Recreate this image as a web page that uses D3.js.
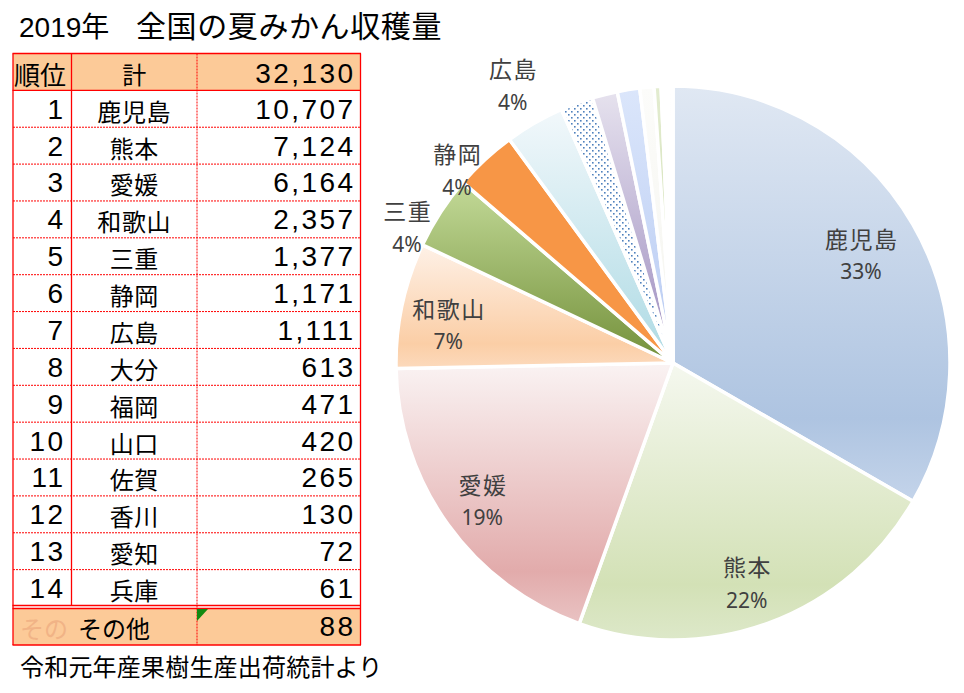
<!DOCTYPE html>
<html><head><meta charset="utf-8">
<script src="https://cdn.jsdelivr.net/npm/d3@7"></script>
<style>html,body{margin:0;padding:0;background:#fff;} svg{display:block}</style>
</head><body><svg id="c" width="964" height="693"></svg>
<script>
// ---- data ----
const ranks = ["1","2","3","4","5","6","7","8","9","10","11","12","13","14"];
const prefectures = ["鹿児島","熊本","愛媛","和歌山","三重","静岡","広島","大分","福岡","山口","佐賀","香川","愛知","兵庫"];
const harvest = [10707,7124,6164,2357,1377,1171,1111,613,471,420,265,130,72,61];
const otherName = "その他";
const otherValue = 88;
const totalValue = 32130;
const pctLabels = ["33%","22%","19%","7%","4%","4%","4%"];
const titleYear = "2019年";
const titleMain = "全国の夏みかん収穫量";
const headerRank = "順位";
const headerName = "計";
const footerText = "令和元年産果樹生産出荷統計より";

// ---- setup ----
const svg = d3.select("#c");
const defs = svg.append("defs");
const CJK = "'Noto Sans CJK JP','Noto Sans CJK SC',sans-serif";
const NUM = "'Liberation Sans','Noto Sans CJK JP',sans-serif";
const fmt = d3.format(",");

// title
svg.append("text").attr("x",19).attr("y",37).attr("font-family",NUM).attr("font-size",28).attr("fill","#000").text(titleYear);
svg.append("text").attr("x",136).attr("y",37).attr("font-family",CJK).attr("font-size",30).attr("letter-spacing",0.6).attr("fill","#000").text(titleMain);

// ---- table ----
const colX = [13, 71.5, 197, 360.5];
const rowScale = d3.scaleBand().domain(d3.range(15)).range([53.5, 606.5]).padding(0);
const otherTop = 608, otherBot = 645;
const peach = "#fcca98", red = "#ff0000";

const tbl = svg.append("g");
tbl.append("rect").attr("x",colX[0]).attr("y",rowScale(0)).attr("width",colX[3]-colX[0]).attr("height",rowScale.bandwidth()).attr("fill",peach);
tbl.append("rect").attr("x",colX[0]).attr("y",otherTop).attr("width",colX[3]-colX[0]).attr("height",otherBot-otherTop).attr("fill",peach);

for (let i = 1; i < 14; i++) {
  const y = rowScale(i) + rowScale.bandwidth();
  tbl.append("line").attr("x1",colX[0]).attr("x2",colX[3]).attr("y1",y).attr("y2",y)
    .attr("stroke",red).attr("stroke-width",1).attr("stroke-dasharray","2,1");
}
const hb = rowScale(0) + rowScale.bandwidth();
[rowScale(0), hb, 605.5, 608.5, otherBot].forEach(y=>{
  tbl.append("line").attr("x1",colX[0]-0.5).attr("x2",colX[3]+0.5).attr("y1",y).attr("y2",y).attr("stroke",red).attr("stroke-width",1.3);
});
tbl.append("line").attr("x1",colX[0]).attr("x2",colX[0]).attr("y1",rowScale(0)).attr("y2",otherBot).attr("stroke",red).attr("stroke-width",1.3);
tbl.append("line").attr("x1",colX[3]).attr("x2",colX[3]).attr("y1",rowScale(0)).attr("y2",otherBot).attr("stroke",red).attr("stroke-width",1.3);
tbl.append("line").attr("x1",colX[1]).attr("x2",colX[1]).attr("y1",rowScale(0)).attr("y2",605.5).attr("stroke",red).attr("stroke-width",1.3);
tbl.append("line").attr("x1",colX[2]).attr("x2",colX[2]).attr("y1",rowScale(0)).attr("y2",otherBot).attr("stroke",red).attr("stroke-width",1).attr("stroke-dasharray","2,1");

tbl.append("path").attr("d",`M${colX[2]},609L${colX[2]+11},609L${colX[2]},621Z`).attr("fill","#128a12");

const numLS = 2.4, numFS = 28;
tbl.append("text").attr("x",14).attr("y",hb-5).attr("font-family",CJK).attr("font-size",26).attr("fill","#000").text(headerRank);
tbl.append("text").attr("x",(colX[1]+colX[2])/2).attr("y",hb-6).attr("text-anchor","middle").attr("font-family",CJK).attr("font-size",24).attr("fill","#000").text(headerName);
tbl.append("text").attr("x",353+numLS).attr("y",hb-7.5).attr("text-anchor","end").attr("font-family",NUM).attr("font-size",numFS).attr("letter-spacing",numLS).attr("fill","#000").text(fmt(totalValue));

ranks.forEach((r,i)=>{
  const yb = rowScale(i+1) + rowScale.bandwidth();
  tbl.append("text").attr("x",63+numLS).attr("y",yb-8.5).attr("text-anchor","end").attr("font-family",NUM).attr("font-size",numFS).attr("letter-spacing",numLS).attr("fill","#000").text(r);
  tbl.append("text").attr("x",(colX[1]+colX[2])/2).attr("y",yb-6.5).attr("text-anchor","middle").attr("font-family",CJK).attr("font-size",24).attr("letter-spacing",0.6).attr("fill","#000").text(prefectures[i]);
  tbl.append("text").attr("x",353+numLS).attr("y",yb-8.5).attr("text-anchor","end").attr("font-family",NUM).attr("font-size",numFS).attr("letter-spacing",numLS).attr("fill","#000").text(fmt(harvest[i]));
});
tbl.append("text").attr("x",20).attr("y",otherBot-7).attr("font-family",CJK).attr("font-size",24).attr("fill","#f1b386").text(otherName.slice(0,2));
tbl.append("text").attr("x",78).attr("y",otherBot-7).attr("font-family",CJK).attr("font-size",24).attr("fill","#000").text(otherName);
tbl.append("text").attr("x",353+numLS).attr("y",otherBot-9).attr("text-anchor","end").attr("font-family",NUM).attr("font-size",numFS).attr("letter-spacing",numLS).attr("fill","#000").text(fmt(otherValue));

// footer
svg.append("text").attr("x",20).attr("y",676).attr("font-family",CJK).attr("font-size",24).attr("letter-spacing",0.2).attr("fill","#000").text(footerText);

// ---- pie ----
const cx = 673, cy = 363, R = 277;
const pieData = prefectures.map((p,i)=>({name:p, v:harvest[i]})).concat([{name:otherName, v:otherValue}]);
const pie = d3.pie().sort(null).value(d=>d.v).startAngle(0).endAngle(2*Math.PI);
const arcs = pie(pieData);
const arc = d3.arc().innerRadius(0).outerRadius(R);

const gradStops = [
  [["0","#e0e8f3"],["0.8","#aec4e1"],["1","#c4d4ea"]],
  [["0","#f5f8ef"],["0.8","#d3e1b6"],["1","#dde8c9"]],
  [["0","#faf3f3"],["0.8","#e2abab"],["1","#e9c3c3"]],
  [["0","#fef1e7"],["0.8","#fbcea6"],["1","#fcdabd"]],
  [["0","#c3da98"],["1","#73903a"]],
  [["0","#f79646"],["1","#f79646"]],
  [["0","#f2f8fb"],["1","#addae4"]],
  null,
  [["0","#e6e2ee"],["1","#9c8bbe"]],
  [["0","#dbe6fb"],["1","#b7caf2"]],
  [["0","#fcfcfa"],["1","#f4f4ee"]],
  [["0","#e3ecd0"],["1","#cbdcaa"]],
  [["0","#fdfdfb"],["1","#f5f5ef"]],
  [["0","#e3ecd0"],["1","#cbdcaa"]],
  [["0","#ffffff"],["1","#fbfbf8"]]
];
gradStops.forEach((st,i)=>{
  if(!st) return;
  const g = defs.append("linearGradient").attr("id","g"+i).attr("x1",0).attr("y1",0).attr("x2",0).attr("y2",1);
  st.forEach(([o,c])=>g.append("stop").attr("offset",o).attr("stop-color",c));
});
const pat = defs.append("pattern").attr("id","dots").attr("patternUnits","userSpaceOnUse").attr("width",6).attr("height",6);
pat.append("rect").attr("width",6).attr("height",6).attr("fill","#fff");
pat.append("rect").attr("x",0).attr("y",0).attr("width",1.6).attr("height",1.6).attr("fill","#4f81bd");
pat.append("rect").attr("x",3).attr("y",3).attr("width",1.6).attr("height",1.6).attr("fill","#4f81bd");

const pg = svg.append("g").attr("transform",`translate(${cx},${cy})`);
pg.selectAll("path.slice").data(arcs).join("path").attr("class","slice")
  .attr("d",arc)
  .attr("fill",(d,i)=> gradStops[i] ? `url(#g${i})` : "url(#dots)")
  .attr("stroke","#fff").attr("stroke-width",3.5).attr("stroke-linejoin","round");

const labelLayout = [[217,0],[232,1.6],[235,0],[228,-2.3],[299,-5.8],[290,-5.4],[321,0]];
pctLabels.forEach((pct,i)=>{
  const a = arcs[i];
  const mid = (a.startAngle + a.endAngle)/2 + labelLayout[i][1]*Math.PI/180;
  const r = labelLayout[i][0];
  const x = r*Math.sin(mid), y = -r*Math.cos(mid);
  pg.append("text").attr("x",x+0.75).attr("y",y-16.5).attr("text-anchor","middle").attr("dominant-baseline","central")
    .attr("font-family",CJK).attr("font-size",23).attr("letter-spacing",1.5).attr("fill","#404040").text(pieData[i].name);
  pg.append("text").attr("x",x).attr("y",y+17).attr("text-anchor","middle").attr("dominant-baseline","central")
    .attr("font-family","'Noto Sans','Open Sans',sans-serif").attr("font-size",21).attr("fill","#404040").text(pct);
});
</script></body></html>
